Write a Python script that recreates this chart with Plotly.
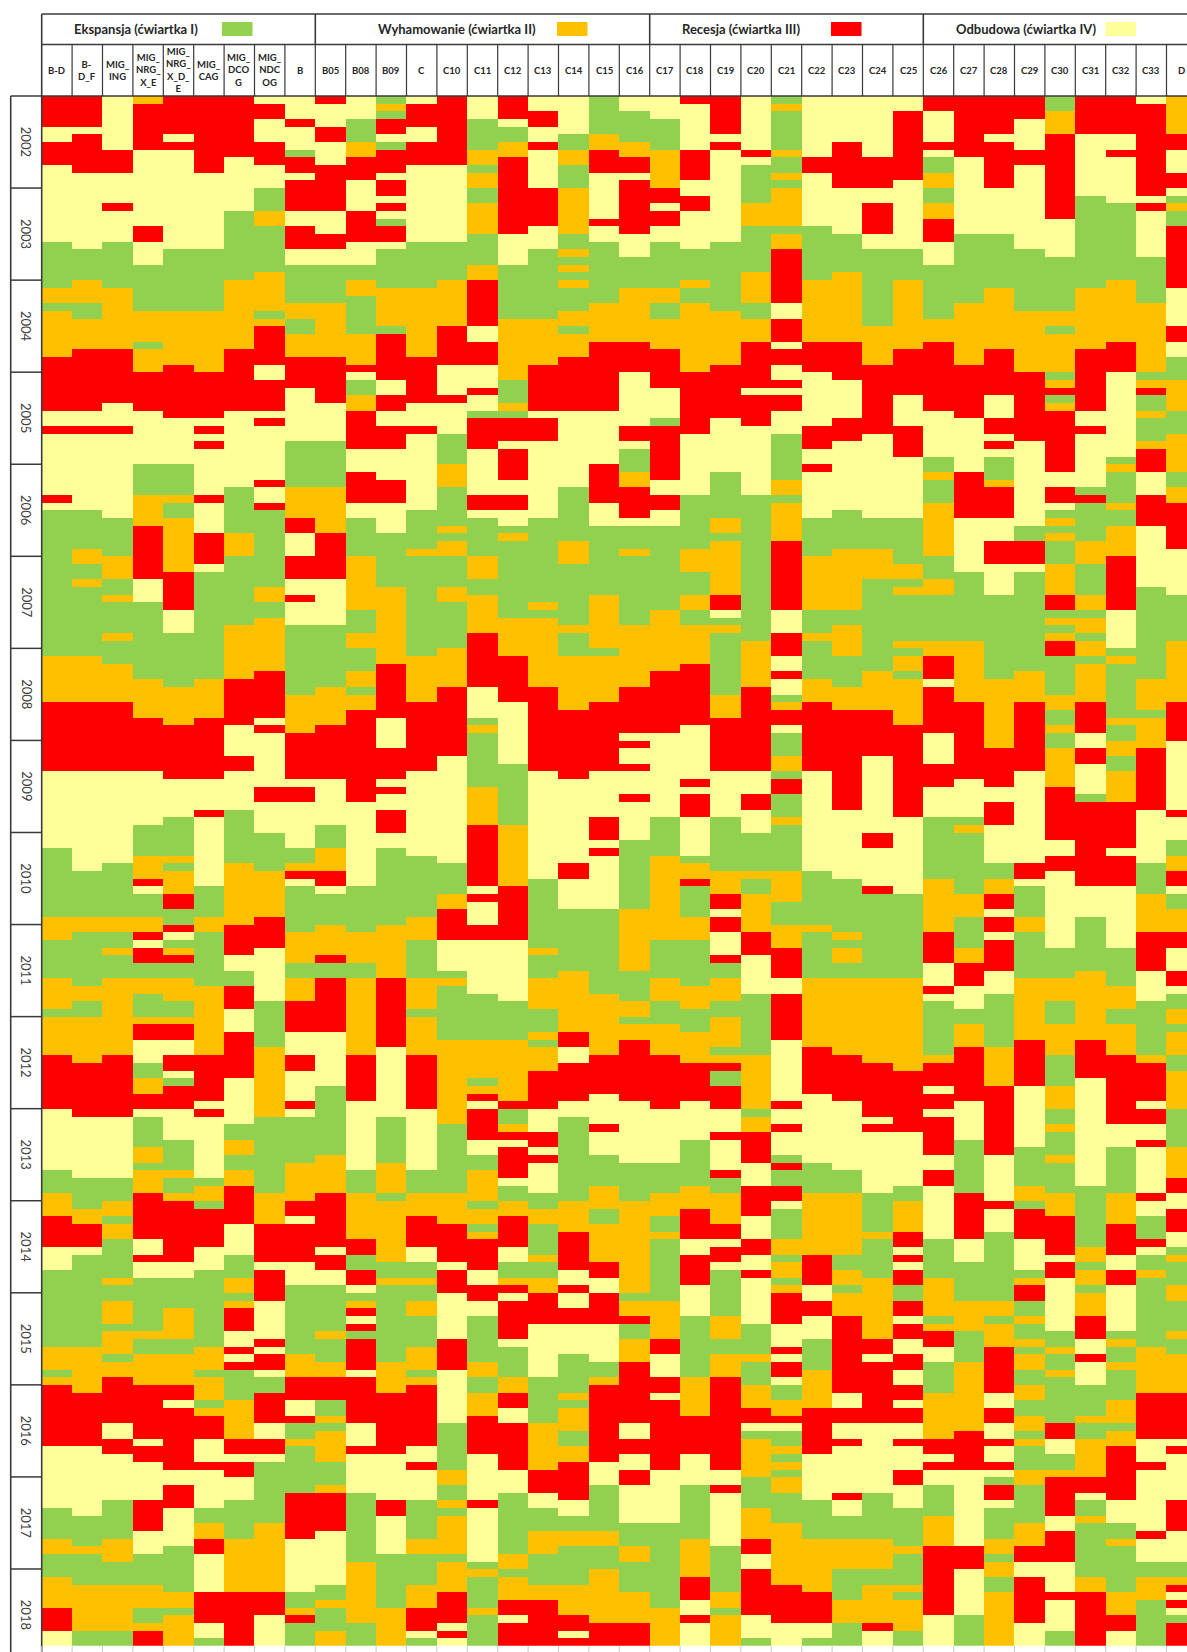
import plotly.graph_objects as go

W, H = 1187, 1652

COLUMNS = ["B-D", "B-<br>D_F", "MIG_<br>ING", "MIG_<br>NRG_<br>X_E", "MIG_<br>NRG_<br>X_D_<br>E", "MIG_<br>CAG",
           "MIG_<br>DCO<br>G", "MIG_<br>NDC<br>OG", "B", "B05", "B08", "B09", "C", "C10", "C11", "C12", "C13",
           "C14", "C15", "C16", "C17", "C18", "C19", "C20", "C21", "C22", "C23", "C24", "C25", "C26", "C27",
           "C28", "C29", "C30", "C31", "C32", "C33", "D"]
YEARS = [2002, 2003, 2004, 2005, 2006, 2007, 2008, 2009, 2010, 2011, 2012, 2013, 2014, 2015, 2016, 2017, 2018]
N_MONTHS = 202
GROUPS = ["Ekspansja (ćwiartka I)", "Wyhamowanie (ćwiartka II)", "Recesja (ćwiartka III)", "Odbudowa (ćwiartka IV)"]
GROUP_COLUMNS = [9, 11, 9, 9]
PHASE_CODES = {"G": 0, "O": 1, "R": 2, "Y": 3}
PHASE_COLORS = ["#92D050", "#FFC000", "#FF0000", "#FFFF99"]

# Phase per month for each column: a letter and the month index at which that run stops.
RUNS = [
 "R4 Y6 R9 Y19 G25 O27 G28 O34 R41 Y43 R44 Y52 R53 Y54 G73 O79 R88 Y98 G107 O110 G115 O119 G120 O125 R132 Y140 G143 O146 R150 Y153 G163 O166 G167 O168 R176 Y184 G188 O190 G193 O197 R200 Y202",
 "R4 Y5 R10 Y20 G24 O27 G29 O33 R41 Y43 R44 Y54 G59 O61 G63 O64 G73 O79 R88 Y101 G107 O109 G116 O118 G120 O126 R133 Y141 G145 O147 R150 Y151 G163 O169 R176 Y185 G189 O190 G194 O200 G202",
 "Y7 R10 Y14 R15 Y19 G25 O33 R40 Y43 R44 Y55 G60 O63 G65 O66 G70 O71 G74 O79 R88 Y100 G107 O109 G111 O112 G115 O125 R133 Y141 G144 O146 G147 O149 G154 O155 G157 O160 G161 O164 G165 O167 R173 Y175 R177 Y183 G188 O191 G194 O200 G202",
 "O1 R7 Y17 R19 Y22 G28 O32 G33 O36 R41 Y48 G52 O56 R63 Y66 G76 O81 R88 Y95 G99 O102 R103 Y104 G107 O109 R110 Y111 R113 G115 O117 G120 O121 R123 Y126 G128 O130 R132 Y133 G137 O139 G140 O143 R149 Y151 R152 Y154 G161 O162 G164 O168 R175 Y176 R178 Y183 R187 Y190 G194 O197 G199 O200 R202",
 "R5 Y6 R7 Y20 G28 O35 R42 Y48 G52 O53 G55 O62 R67 Y70 G77 O82 R89 Y94 G99 O100 G101 O104 R106 G108 R109 Y110 G111 O112 R113 G115 O118 G120 O121 R123 Y125 R127 Y128 G129 R132 Y136 G140 O141 G143 O144 R152 Y154 G158 O162 G164 O168 R170 Y171 R179 Y181 R184 Y189 G195 O197 G198 O202",
 "R10 Y20 G28 O36 R42 Y43 R44 Y45 R46 Y52 R53 Y57 R61 Y62 G76 O81 R89 Y93 R94 Y103 G107 O109 G116 O125 R131 Y132 R133 Y141 G142 O144 G145 R150 Y153 G163 O166 G167 O170 G171 O172 R175 Y178 R179 Y184 G186 O188 R190 Y195 R199 Y201 G202",
 "R8 Y15 G24 O33 R41 Y51 G57 O60 G69 O76 R82 Y86 R88 Y93 G100 O108 R112 Y114 G116 R119 Y122 R128 Y134 G136 O138 G140 O142 R147 Y151 G154 O156 G157 O158 R161 Y163 R164 Y165 R166 G170 O175 R177 Y178 R180 Y183 G188 O195 R202",
 "Y1 R3 Y6 R9 Y12 G15 O17 G23 O28 G29 O30 R35 Y37 R41 Y42 R43 Y50 R51 Y53 R54 G64 O66 G68 O75 R81 Y82 R83 Y90 R92 Y96 G101 O107 R111 Y118 G124 O133 G143 O147 R152 Y153 R157 Y162 R163 Y164 R166 Y167 G169 R173 Y175 R177 Y178 G186 O195 R198 Y202",
 "Y3 R4 Y7 G8 R10 Y11 R15 Y17 R20 Y22 G27 O29 G31 O34 R38 Y45 G51 O55 R57 Y60 R63 Y65 R66 Y69 G78 O83 R89 Y90 R92 Y98 G100 O101 R102 Y103 G109 O113 G115 O118 R122 Y125 R127 Y131 R132 Y133 G139 O144 R146 Y147 R152 Y155 G164 O167 R170 Y172 R173 G175 O176 G182 R188 Y195 G197 O198 R199 G202",
 "R1 Y4 R6 Y9 R15 Y18 R20 Y22 G27 O34 R40 Y45 G51 O57 R63 Y69 G77 O82 R89 Y95 G98 O101 R103 Y104 G108 O112 R113 G115 R122 Y129 G138 O143 R150 Y151 R153 Y155 G161 O162 G165 O167 R170 G172 O173 G174 O178 G181 O182 R187 Y194 G196 O197 G200 O202",
 "Y3 G6 O8 R11 Y15 R19 Y22 G24 O26 G31 O35 R36 Y37 G39 O41 R46 Y49 R53 Y55 G60 O67 G70 O72 G75 O77 G78 O80 R92 Y103 G109 O113 G115 O125 R131 Y140 G143 O149 R151 G153 R155 Y156 G157 O158 R159 Y160 R161 G162 R166 Y167 R173 Y176 R177 Y182 G191 O199 G202",
 "G1 O2 G3 R5 Y6 G7 R10 Y11 R13 Y14 R15 Y16 G17 R19 Y20 G25 O30 G31 R37 Y39 R41 Y43 R46 Y50 R53 Y57 G64 O74 R81 Y85 R89 Y90 R91 Y93 R96 Y98 G108 O115 R124 Y133 G139 O143 G144 O152 G154 O155 G165 O169 R177 Y183 R185 Y190 G197 O202",
 "Y1 R4 Y6 R9 Y19 G25 O34 R40 Y43 R44 Y54 G59 O60 G73 O79 R88 Y99 G107 O110 G115 O119 G120 O125 R132 Y140 G143 O146 R150 Y152 G154 O155 G157 O159 G163 O166 G167 O168 R176 Y178 R179 Y183 G188 O190 G194 O197 R200 Y201 G202",
 "R9 Y19 G24 O30 R35 Y39 R40 Y44 G48 O51 G56 O57 G58 O60 G64 O66 G72 O77 R86 Y100 G104 O106 R110 Y114 G115 O116 G123 O134 G143 O147 R152 Y153 R156 Y162 R166 Y173 G179 O181 G183 O184 G185 O190 G191 O195 R199 Y200 R201 Y202",
 "Y3 G7 O9 G10 O12 G14 O18 G22 O24 R30 Y32 R35 Y38 R39 Y41 G42 R46 Y52 R54 Y55 G60 O63 G65 O70 R77 Y81 G82 O83 G90 O95 R103 Y104 R105 Y108 R110 Y117 G123 O128 G129 O130 R131 Y132 R136 Y138 G140 O144 G145 O147 G148 O149 R153 Y155 R157 Y159 G165 O167 G169 O172 R177 Y183 R184 Y191 G192 O193 G197 O198 G202",
 "R3 Y4 G6 O8 R18 Y22 G29 O37 G40 O41 G42 R45 Y46 R50 Y52 R54 Y56 G57 O58 G68 O73 R79 Y87 G95 O103 R110 Y118 G123 O131 R132 G134 O135 R136 Y137 R141 Y142 G144 O146 R150 Y152 G154 O155 R156 Y157 R162 Y163 G167 O169 R171 Y173 R179 Y182 G190 O192 G193 O196 R198 Y199 R202",
 "Y2 R4 Y6 R7 Y12 R17 Y20 G29 O35 R41 Y42 R45 Y55 G66 O67 G68 O77 R88 Y102 G111 O112 G115 O119 G122 O123 G124 O127 R132 Y135 R137 Y138 R139 Y143 G145 O147 G151 O152 G154 O156 R160 Y167 G173 O179 R182 Y184 G187 O190 G194 O196 R202",
 "Y5 G7 O9 G12 O18 G20 O21 G22 O23 G24 O25 G28 O30 G31 O34 R41 Y51 G58 O61 G69 O70 G73 O80 R89 Y100 R102 Y106 G114 O122 R124 Y126 R131 Y133 G144 O148 R153 Y155 R156 Y158 R160 Y164 G169 O170 G171 O174 G176 O178 R183 Y185 G187 O189 G194 O198 R200 Y201 R202",
 "G5 O7 R10 Y16 R17 Y19 G27 O32 R41 Y48 R53 Y56 G65 O72 G73 O79 R88 Y94 R97 Y98 R99 Y106 G117 O125 R130 Y134 R135 Y138 G142 O145 G147 O152 R154 Y156 R160 Y165 G167 O168 R178 Y181 G187 O189 G192 O199 R202",
 "Y2 G6 O8 R10 Y11 R18 Y21 G25 O32 R36 Y43 R45 Y46 G49 O51 R55 Y56 G59 O60 G69 O77 R83 Y84 R85 Y87 R88 Y91 R92 Y97 G106 O114 G118 O120 G121 O123 R131 Y139 G144 O156 G157 O159 R160 G162 O165 R173 Y175 R177 Y179 R181 Y186 G189 O191 G195 O199 R202",
 "Y3 G7 O12 R14 Y15 R17 Y19 G25 O27 G29 O33 R38 Y42 G43 R50 Y52 R54 Y56 G67 O75 R83 Y94 G99 O110 G115 O118 G121 O125 R132 Y139 G143 O146 G148 O149 G157 O162 R164 Y167 R169 Y170 R179 Y186 G197 O202",
 "R1 Y7 R11 Y13 R15 Y20 G24 O25 G27 O36 R44 Y52 G59 O62 G65 O67 G69 O74 R82 Y89 R90 Y91 R94 Y99 G100 O102 R103 G107 O110 G116 O119 G122 O126 R131 Y136 G142 O145 R149 Y151 R155 Y159 G167 O172 R177 Y181 G188 O193 R196 Y198 R199 Y202",
 "R5 Y6 R7 Y19 G28 O35 R42 Y49 G55 O57 G58 O65 R67 Y68 G69 O70 G78 O81 R88 Y94 G101 O104 R106 Y107 R109 Y112 R113 G115 O118 G120 O124 G125 O126 R127 G129 R132 Y135 R136 Y140 R141 G143 O147 R149 Y150 R152 Y153 G159 O162 G164 O167 R179 Y181 R182 Y189 G195 O197 G198 O202",
 "Y7 R8 Y9 G14 O17 G23 O27 G29 O32 R38 Y39 R43 Y52 G71 O77 R88 Y91 R93 Y96 G101 O102 G104 O109 R112 Y117 G125 O132 G133 O135 R139 Y142 R146 Y149 R151 Y153 R154 Y160 G164 O165 G168 O171 R173 Y174 G175 O180 G184 O188 R190 Y192 R198 Y201 G202",
 "G1 O2 G7 O8 G10 O11 G12 O17 G18 O20 R27 Y29 R32 Y33 R35 Y37 R38 Y39 R41 Y44 G50 O52 G53 O58 R67 Y70 R73 Y75 R76 Y78 G79 O80 R82 Y83 G86 O88 G89 R91 G94 O95 G101 O105 G108 O111 R115 Y117 R123 Y131 R132 Y134 R135 Y138 G139 R140 G142 R144 Y145 G149 O151 G152 O154 G155 O156 R160 Y163 R164 Y165 R167 Y168 G170 O172 R173 Y174 G176 O177 G178 O179 G180 O182 G186 O194 R199 Y202",
 "Y8 R10 Y17 G24 O32 R36 Y43 R46 Y48 R49 Y55 G60 O67 G70 O71 G76 O79 R88 Y101 G108 O109 G115 O124 R130 Y139 G143 O151 R155 Y157 R159 Y162 G166 O171 R177 Y183 G188 O195 R199 Y201 G202",
 "Y6 R12 Y18 G23 O32 R37 Y42 R45 Y54 G59 O67 G69 O73 G77 O80 R93 Y102 G109 O110 G111 O113 G115 O125 R131 Y140 G143 O151 G153 O155 G156 O159 R169 Y171 R173 Y175 R176 Y182 R183 Y185 G188 O192 G196 O199 G202",
 "Y8 R12 Y14 R18 Y20 G30 O35 R44 Y55 G59 O63 G75 O80 R86 Y96 R98 Y103 R104 G115 O126 R133 Y134 R135 Y143 G148 O149 G154 O162 R164 Y165 R173 Y182 G188 O192 G194 O199 R200 Y202",
 "Y2 R11 Y20 G24 O33 R39 Y43 R47 Y55 G61 O63 G64 O65 G71 O72 G73 O75 G76 O82 R94 Y104 G115 O127 R135 Y142 G144 O148 R150 Y151 R152 Y153 R155 G157 R159 Y160 R162 Y164 R166 Y168 R170 Y171 R173 Y175 R176 Y179 R181 Y184 G189 O190 G194 O195 G196 O200 G202",
 "R2 Y6 R7 Y8 G10 O12 G14 O16 R19 Y22 G29 O32 R41 Y47 G49 O50 G53 O60 G63 O65 G71 O73 R76 Y77 R83 Y87 R90 Y94 G102 O109 R113 Y116 R117 Y118 G125 O126 R129 Y130 R132 Y133 R138 Y140 R142 Y149 G154 O159 G160 O161 R163 Y165 G169 O175 R177 Y178 R179 Y181 G185 O189 R198 Y202",
 "R8 Y18 G27 O35 R42 Y49 R55 Y62 G71 O79 R89 Y94 G95 O96 G104 O107 G111 O113 R116 Y119 G121 O124 R131 Y136 G143 R149 Y152 G157 O161 G165 O174 R179 Y189 R192 Y198 G202",
 "R5 Y6 R12 Y18 G25 O33 R39 Y42 R44 Y45 R46 Y47 G50 O51 R55 Y58 R61 Y65 G76 O85 R90 Y92 R95 Y100 G102 O104 R106 Y107 R109 Y110 R114 Y117 G124 O129 R138 Y144 R145 Y148 G157 O159 G160 O163 R169 Y171 R173 Y175 R176 Y178 R179 Y180 G181 R183 Y184 G188 O190 G191 O193 G195 O202",
 "R3 Y7 R9 Y20 G28 O36 R45 Y56 G58 R61 Y62 G75 O79 R88 Y100 R102 Y103 G107 O109 G115 O123 R129 Y137 G142 O144 G145 R149 Y153 G154 O155 R157 G159 O160 G162 O163 G164 O166 G168 O170 G172 O174 G175 O176 G179 O181 G186 O189 R191 Y193 R199 Y202",
 "G2 O5 R16 Y21 G28 O30 G31 O36 G37 O38 R39 G40 O41 R49 Y51 R53 Y54 G55 O56 G57 O58 G61 O65 R67 G68 O69 G70 O71 R73 G78 O80 G82 O83 G85 O90 R97 Y99 R101 Y111 G115 O118 G121 O125 G129 O132 G134 O135 G138 O139 G143 O146 R151 Y152 R154 Y161 G163 O164 G166 O167 G173 R175 Y177 G179 O180 R185 Y187 R191 Y195 R196 Y200 G202",
 "R5 Y13 G25 O33 R41 Y43 R44 Y51 G52 R53 G58 O61 G65 O67 G68 O70 G71 O73 G74 O79 R83 Y85 R87 Y91 G92 R103 Y107 G114 O123 R128 Y142 G150 O152 G153 O155 G156 O159 R162 Y164 R165 Y168 G172 O173 G175 O180 R182 Y183 G185 O186 G193 O195 R202",
 "R5 Y7 R8 Y14 G24 O32 R36 Y47 G48 O49 G53 O54 G56 O60 R67 Y72 G73 O74 G81 O82 G84 O86 G88 O92 R98 Y99 R103 Y111 G116 O119 G121 O125 R134 Y137 G143 O147 R151 Y153 R155 Y161 G162 O163 G165 O166 G170 O173 G174 O176 R183 Y186 G188 O189 G195 O198 R200 Y202",
 "Y1 R13 Y14 R15 Y21 G27 O36 G37 O38 R39 G41 O42 G45 O46 R49 Y52 R56 Y64 G76 O80 G81 O85 R93 Y100 G104 O109 R114 Y118 G125 O126 R131 Y132 R134 Y136 R137 Y143 R144 Y146 G149 R150 Y151 G153 O154 G163 O169 R175 Y178 R179 Y187 R188 Y191 G193 O196 G202",
 "O5 R7 Y10 R12 Y13 G14 O15 G17 R25 Y30 R32 Y34 G37 O41 G44 O49 G51 O53 R59 Y65 G71 O79 R84 Y93 R94 Y97 G99 O101 R103 Y104 G106 O109 R111 Y114 R116 Y117 G119 O121 G122 O125 G127 O132 G137 O141 R143 Y145 R148 Y150 G151 O152 G155 O157 G161 O162 G164 O169 R175 Y176 R177 Y183 R187 Y191 G193 O194 R195 Y196 R197 Y198 G199 R202",
]


def expand(run_text):
    out, start = [], 0
    for token in run_text.split():
        stop = int(token[1:])
        out += [PHASE_CODES[token[0]]] * (stop - start)
        start = stop
    return (out + [out[-1]] * N_MONTHS)[:N_MONTHS]


by_col = [expand(r) for r in RUNS]
z = [[by_col[c][m] for c in range(len(COLUMNS))] for m in range(N_MONTHS)]

# page geometry, in pixels
LEFT, CELL_W = 41.7, 30.4
TOP, BOTTOM = 96.0, 1645.7
ROW_H = (BOTTOM - TOP) / N_MONTHS
YEAR_L = 10.7
HEAD_T, HEAD_M = 14.0, 44.5
LINE = "#3a3a3a"
TXT = "#262626"
FONT = "Lato, Carlito, 'Noto Sans', sans-serif"


def px(x):
    return x / W


def py(y):
    return 1 - y / H


fig = go.Figure(go.Heatmap(
    z=z, x=list(range(len(COLUMNS))), y=list(range(N_MONTHS)), zmin=0, zmax=3, showscale=False,
    colorscale=[[0, PHASE_COLORS[0]], [0.25, PHASE_COLORS[0]], [0.25, PHASE_COLORS[1]], [0.5, PHASE_COLORS[1]],
                [0.5, PHASE_COLORS[2]], [0.75, PHASE_COLORS[2]], [0.75, PHASE_COLORS[3]], [1, PHASE_COLORS[3]]],
    hoverinfo="skip"))

shapes, notes = [], []


def hline(y, x0, x1, w=1.4, color=LINE):
    shapes.append(dict(type="line", xref="paper", yref="paper", x0=px(x0), x1=px(x1), y0=py(y), y1=py(y),
                       line=dict(color=color, width=w), layer="above"))


def vline(x, y0, y1, w=1.4, color=LINE):
    shapes.append(dict(type="line", xref="paper", yref="paper", x0=px(x), x1=px(x), y0=py(y0), y1=py(y1),
                       line=dict(color=color, width=w), layer="above"))


hline(HEAD_T, LEFT, W, 1.6)
hline(HEAD_M, LEFT, W, 1.4)
hline(TOP, YEAR_L, W, 1.4)
vline(LEFT, HEAD_T, H, 1.6)
vline(YEAR_L, TOP, H, 1.6)

# column header cells
for i, name in enumerate(COLUMNS):
    x = LEFT + CELL_W * i
    if i:
        vline(x, HEAD_M, TOP, 1.2)
    vline(x, BOTTOM + 0.5, H, 1, "#c8c8c8")
    notes.append(dict(text=name, x=i, xref="x", y=py((HEAD_M + TOP) / 2), yref="paper", showarrow=False,
                      xanchor="center", yanchor="middle", align="center",
                      font=dict(family=FONT, size=9.5, color=TXT, weight="bold")))

# group header cells with their legend swatches
start = 0
title_x = [135.6, 457, 741, 1026]
swatch_x = [222, 557, 831, 1105.5]
for g, (title, n) in enumerate(zip(GROUPS, GROUP_COLUMNS)):
    if start:
        vline(LEFT + CELL_W * start, HEAD_T, HEAD_M, 1.6)
    notes.append(dict(text=title, x=px(title_x[g]), xref="paper", y=py(29), yref="paper", showarrow=False,
                      xanchor="center", yanchor="middle",
                      font=dict(family=FONT, size=13, color=TXT, weight="bold")))
    shapes.append(dict(type="rect", xref="paper", yref="paper", x0=px(swatch_x[g]), x1=px(swatch_x[g] + 30.5),
                       y0=py(22), y1=py(36), fillcolor=PHASE_COLORS[g], line=dict(width=0), layer="above"))
    start += n

# year boxes
for k, year in enumerate(YEARS):
    first = 12 * k
    if k:
        hline(TOP + ROW_H * first, YEAR_L, LEFT, 1.5)
    notes.append(dict(text=str(year), x=px((YEAR_L + LEFT) / 2), xref="paper", y=first + 5.5, yref="y",
                      showarrow=False, textangle=90, xanchor="center", yanchor="middle",
                      font=dict(family="Lato, 'Noto Sans', sans-serif", size=13, color="#404040")))

fig.update_layout(
    width=W, height=H, margin=dict(l=0, r=0, t=0, b=0), paper_bgcolor="white", plot_bgcolor="white",
    shapes=shapes, annotations=notes, showlegend=False,
    xaxis=dict(domain=[px(LEFT), 1], range=[-0.5, (W - LEFT) / CELL_W - 0.5], showticklabels=False, ticks="",
               showgrid=False, zeroline=False),
    yaxis=dict(domain=[py(BOTTOM), py(TOP)], range=[N_MONTHS - 0.5, -0.5], showticklabels=False, ticks="",
               showgrid=False, zeroline=False),
)
fig.write_html("out.html", config={"displayModeBar": False},
               post_script="document.body.style.margin='0';window.dispatchEvent(new Event('resize'));")
